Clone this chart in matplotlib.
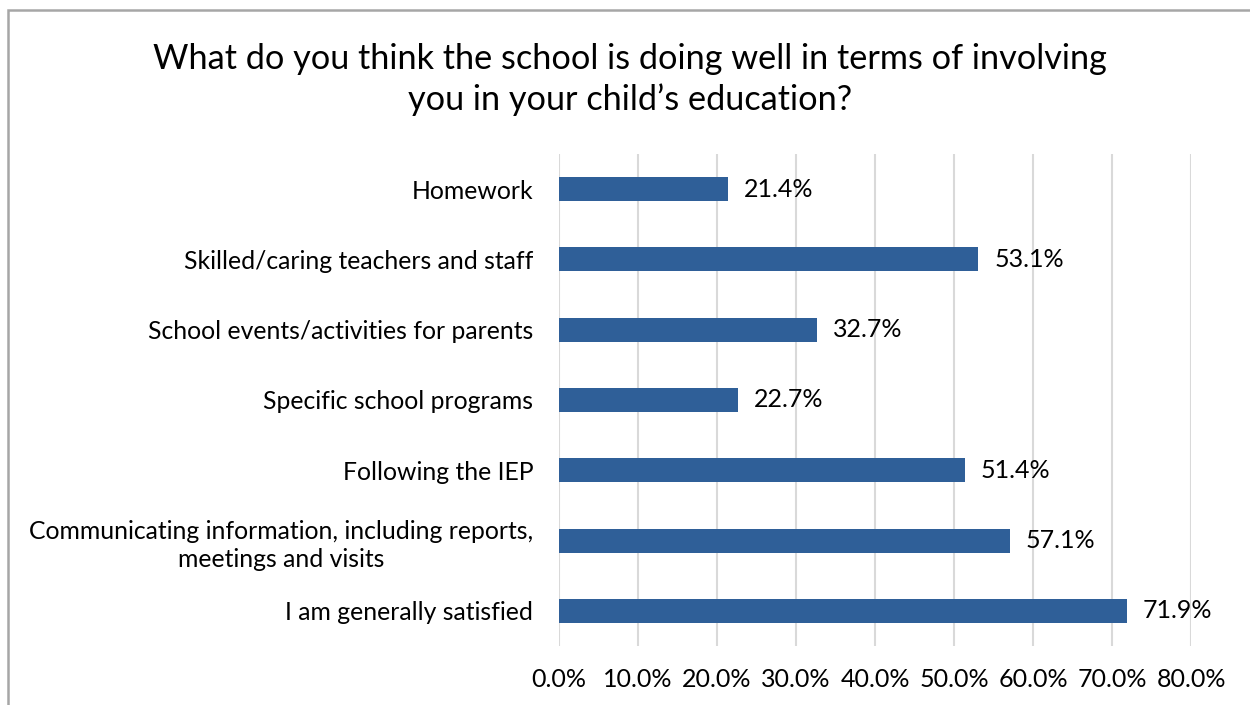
import matplotlib.pyplot as plt
from matplotlib.patches import Rectangle

# survey responses, listed top to bottom
labels = ["Homework",
          "Skilled/caring teachers and staff",
          "School events/activities for parents",
          "Specific school programs",
          "Following the IEP",
          "Communicating information, including reports,\nmeetings and visits",
          "I am generally satisfied"]
values = [21.4, 53.1, 32.7, 22.7, 51.4, 57.1, 71.9]
xticks = [0, 10, 20, 30, 40, 50, 60, 70, 80]

plt.rcParams['font.family'] = ['Lato', 'DejaVu Sans']

fig = plt.figure(figsize=(12.5, 7.05), dpi=100)
ax = fig.add_axes([0.4472, 0.0837, 0.5056, 0.6979])

ypos = list(range(len(labels)))
ax.barh(ypos, values, height=0.34, color='#2F5F98', zorder=3)

# value labels right of each bar
for y, v in zip(ypos, values):
    ax.text(v + 2.0, y, f"{v:.1f}%", va='center', ha='left', fontsize=18, color='#000000')

ax.set_xlim(0, 80)
ax.set_ylim(len(labels) - 0.5, -0.5)
ax.set_xticks(xticks)
ax.set_xticklabels([f"{t:.1f}%" for t in xticks], fontsize=18)
ax.set_yticks(ypos)
ax.set_yticklabels(labels, fontsize=17.8)
for t in ax.get_yticklabels():
    t.set_multialignment('center')
    t.set_linespacing(1.3)

ax.tick_params(axis='both', length=0)
ax.tick_params(axis='y', pad=18.5)
ax.tick_params(axis='x', pad=16)
ax.grid(axis='x', color='#D9D9D9', linewidth=1.5, zorder=0)
for s in ax.spines.values():
    s.set_visible(False)

fig.text(0.504, 0.887, "What do you think the school is doing well in terms of involving\nyou in your child\u2019s education?",
         ha='center', va='center', fontsize=24.7, linespacing=1.33)

# outer frame
fig.patches.append(Rectangle((8 / 1250, -0.01), 1.1, 1 - 10 / 705 + 0.01, transform=fig.transFigure,
                             fill=False, edgecolor='#A6A6A6', linewidth=1.8))

fig.savefig("out.png", dpi=100)
